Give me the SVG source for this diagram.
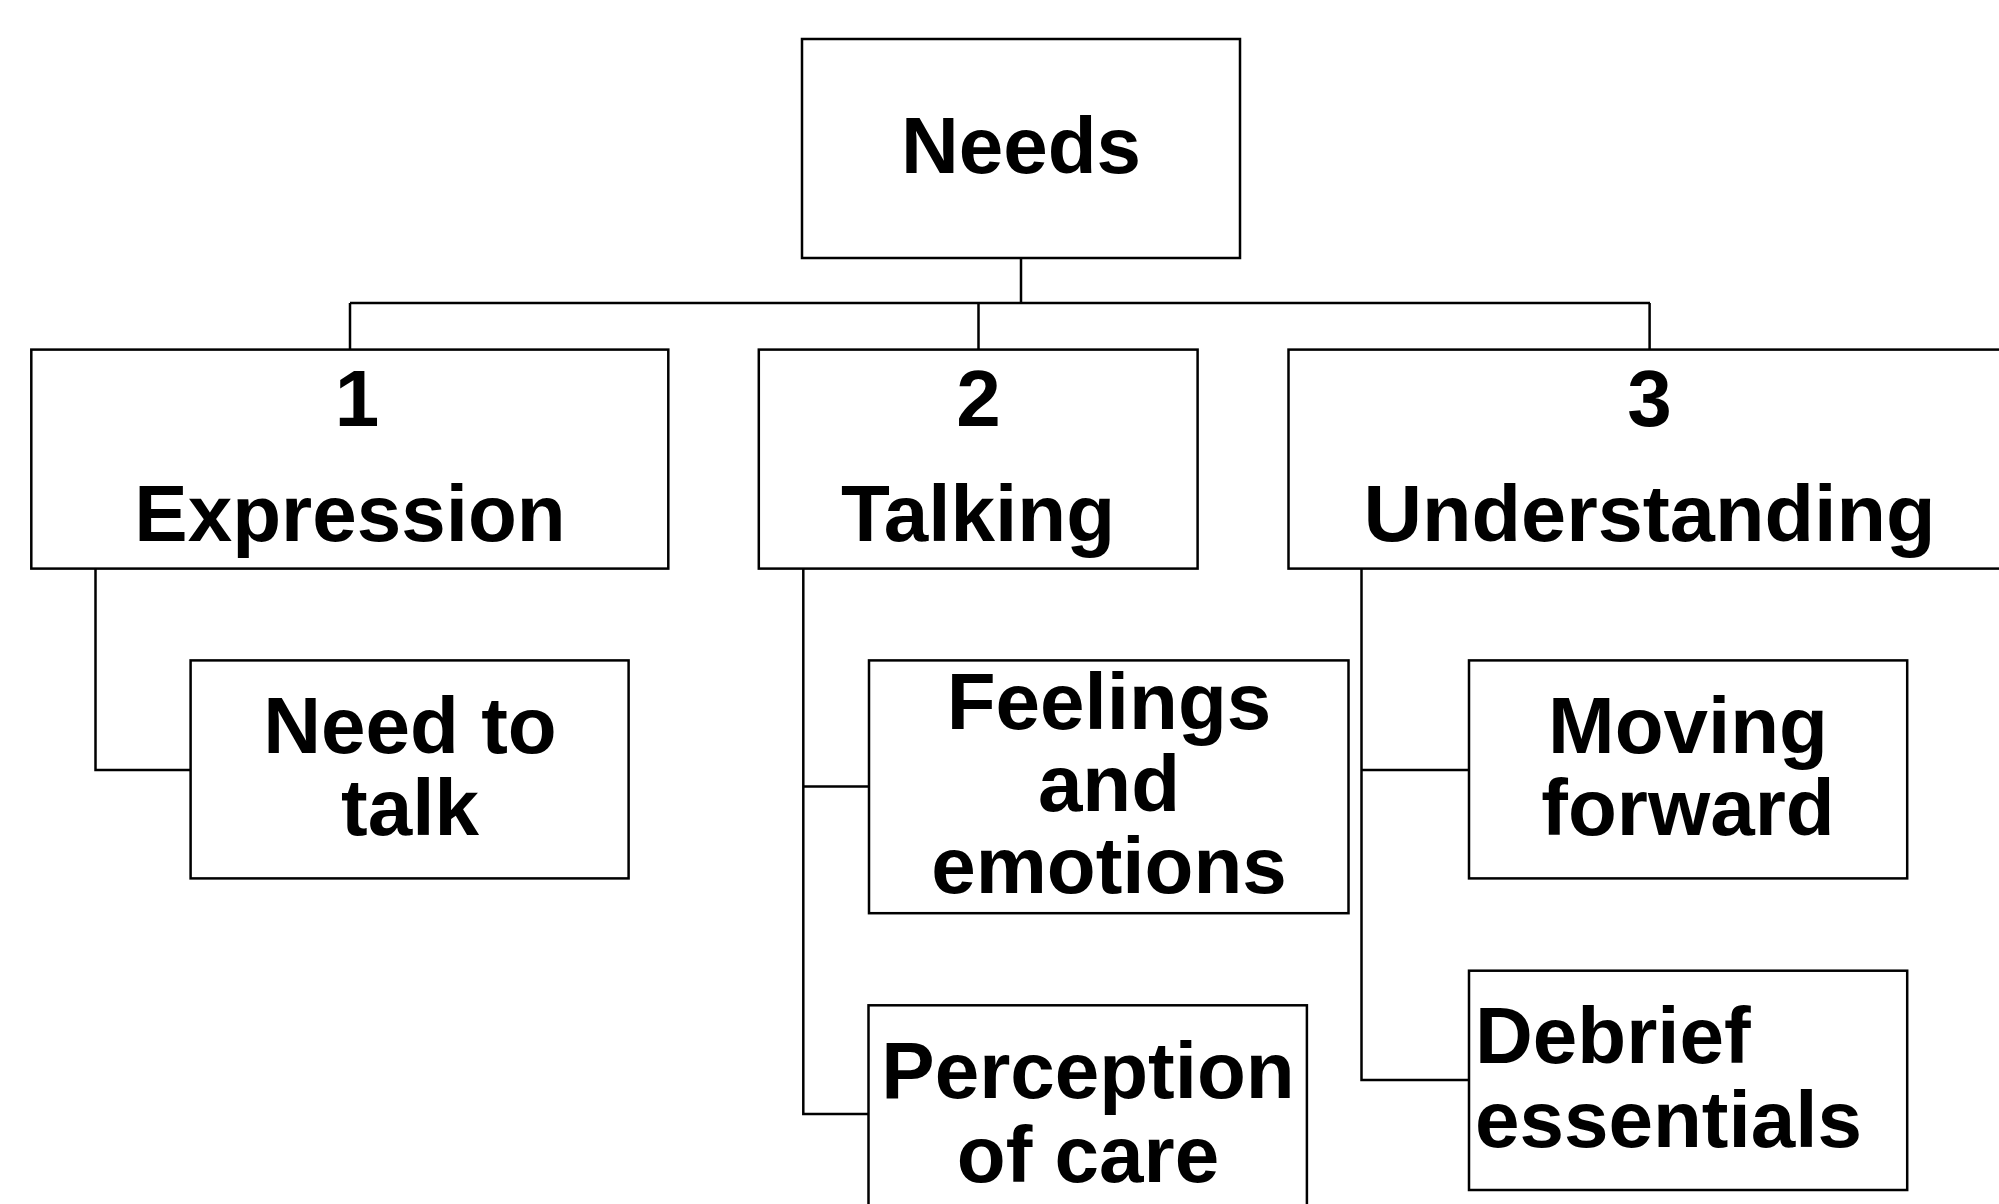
<svg xmlns="http://www.w3.org/2000/svg" width="1999" height="1204" viewBox="0 0 1999 1204">
<style>
.box{fill:#fff;stroke:#000;stroke-width:2.5}
.ln{fill:none;stroke:#000;stroke-width:2.5}
text{font-family:"Liberation Sans",Arial,sans-serif;font-weight:bold;font-size:80px;fill:#000;text-anchor:middle}
</style>
<rect width="1999" height="1204" fill="#fff"/>
<g id="connectors">
<path class="ln" d="M1021,258 V303 M350,303 H1650 M350,303 V349.6 M978.5,303 V349.6 M1649.6,303 V349.6"/>
<path class="ln" d="M95.5,568.5 V770 H190.6"/>
<path class="ln" d="M803.3,568.5 V1114 H868.5 M803.3,786.5 H869"/>
<path class="ln" d="M1361.5,568.5 V1080 H1469 M1361.5,770 H1469"/>
</g>
<g id="needs">
<rect class="box" x="802" y="39" width="438" height="219"/>
<text x="1021" y="173">Needs</text>
</g>
<g id="expression">
<rect class="box" x="31.3" y="349.6" width="637" height="219"/>
<text x="357" y="426">1</text>
<text x="350" y="540.7">Expression</text>
</g>
<g id="talking">
<rect class="box" x="758.8" y="349.6" width="438.8" height="219"/>
<text x="978.5" y="426">2</text>
<text x="978" y="540.7">Talking</text>
</g>
<g id="understanding">
<rect class="box" x="1288.5" y="349.6" width="730" height="219"/>
<text x="1649.5" y="426">3</text>
<text x="1649.5" y="540.7" textLength="572" lengthAdjust="spacingAndGlyphs">Understanding</text>
</g>
<g id="need-to-talk">
<rect class="box" x="190.6" y="660.4" width="438" height="218"/>
<text x="410" y="753">Need to</text>
<text x="410" y="835.4">talk</text>
</g>
<g id="feelings">
<rect class="box" x="869" y="660.4" width="479.5" height="252.8"/>
<text x="1109" y="729">Feelings</text>
<text x="1109" y="811">and</text>
<text x="1109" y="893">emotions</text>
</g>
<g id="perception">
<rect class="box" x="868.5" y="1005.3" width="438.4" height="210"/>
<text x="1088" y="1098.3">Perception</text>
<text x="1088" y="1181.7">of care</text>
</g>
<g id="moving-forward">
<rect class="box" x="1469" y="660.4" width="438.2" height="218"/>
<text x="1688" y="753">Moving</text>
<text x="1688" y="835.4">forward</text>
</g>
<g id="debrief">
<rect class="box" x="1469" y="970.7" width="438.2" height="219.3"/>
<text x="1475" y="1063.3" style="text-anchor:start">Debrief</text>
<text x="1475" y="1146.7" style="text-anchor:start">essentials</text>
</g>
</svg>
